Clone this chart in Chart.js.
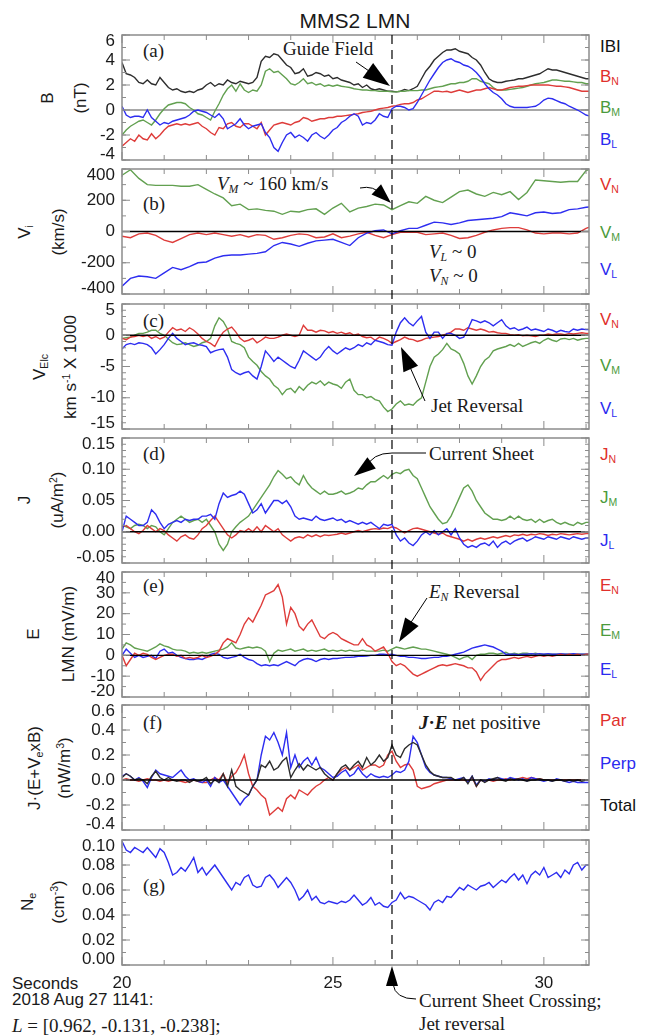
<!DOCTYPE html>
<html>
<head>
<meta charset="utf-8">
<script src="https://cdn.jsdelivr.net/npm/chart.js@4.4.1/dist/chart.umd.min.js"></script>
<style>
body { margin: 0; background: #fff; }
#fig { position: relative; width: 650px; height: 1036px; overflow: hidden; font-family: "Liberation Sans", Arial, sans-serif; color: #1a1a1a; }
#fig canvas { position: absolute; left: 0; }
.t { position: absolute; white-space: nowrap; line-height: 1; transform: translateY(-50%); }
.serif { font-family: "Liberation Serif", "Times New Roman", serif; font-size: 19px; }
.sans { font-size: 17px; }
.yt { position: absolute; white-space: nowrap; line-height: 1; font-size: 17px; transform: translate(-50%, -50%) rotate(-90deg); }
sub { font-size: 62%; vertical-align: -0.3em; }
sup { font-size: 62%; vertical-align: 0.6em; }
.r { color: #e0302c; } .g { color: #4b9b3c; } .b { color: #2b2bef; } .k { color: #111; }
</style>
</head>
<body>
<div id="fig">
  <div class="t" style="left:355px;top:20px;font-size:21px;transform:translate(-50%,-50%)">MMS2 LMN</div>

  <!-- y titles -->
  <div class="yt" style="left:47px;top:98px">B</div>
  <div class="yt" style="left:80px;top:98px">(nT)</div>
  <div class="yt" style="left:25px;top:232px">V<sub>i</sub></div>
  <div class="yt" style="left:58px;top:232px">(km/s)</div>
  <div class="yt" style="left:40px;top:367px">V<sub>Elc</sub></div>
  <div class="yt" style="left:70px;top:367px">km s<sup>-1</sup> X 1000</div>
  <div class="yt" style="left:24px;top:500px">J</div>
  <div class="yt" style="left:57px;top:500px">(uA/m<sup>2</sup>)</div>
  <div class="yt" style="left:33px;top:634px">E</div>
  <div class="yt" style="left:68px;top:634px">LMN (mV/m)</div>
  <div class="yt" style="left:35px;top:768px">J·(E+V<sub>e</sub>xB)</div>
  <div class="yt" style="left:64px;top:768px">(nW/m<sup>3</sup>)</div>
  <div class="yt" style="left:28px;top:902px">N<sub>e</sub></div>
  <div class="yt" style="left:58px;top:902px">(cm<sup>-3</sup>)</div>

  <!-- component keys -->
  <div class="t sans k" style="left:600px;top:46px">IBI</div>
  <div class="t sans r" style="left:600px;top:77px">B<sub>N</sub></div>
  <div class="t sans g" style="left:600px;top:108px">B<sub>M</sub></div>
  <div class="t sans b" style="left:600px;top:140px">B<sub>L</sub></div>
  <div class="t sans r" style="left:600px;top:185px">V<sub>N</sub></div>
  <div class="t sans g" style="left:600px;top:233px">V<sub>M</sub></div>
  <div class="t sans b" style="left:600px;top:270px">V<sub>L</sub></div>
  <div class="t sans r" style="left:600px;top:320px">V<sub>N</sub></div>
  <div class="t sans g" style="left:600px;top:366px">V<sub>M</sub></div>
  <div class="t sans b" style="left:600px;top:409px">V<sub>L</sub></div>
  <div class="t sans r" style="left:600px;top:455px">J<sub>N</sub></div>
  <div class="t sans g" style="left:600px;top:498px">J<sub>M</sub></div>
  <div class="t sans b" style="left:600px;top:541px">J<sub>L</sub></div>
  <div class="t sans r" style="left:600px;top:586px">E<sub>N</sub></div>
  <div class="t sans g" style="left:600px;top:631px">E<sub>M</sub></div>
  <div class="t sans b" style="left:600px;top:670px">E<sub>L</sub></div>
  <div class="t sans r" style="left:600px;top:720px">Par</div>
  <div class="t sans b" style="left:600px;top:763px">Perp</div>
  <div class="t sans k" style="left:600px;top:805px">Total</div>

  <!-- panel letters -->
  <div class="t serif" style="left:143px;top:50px">(a)</div>
  <div class="t serif" style="left:143px;top:203px">(b)</div>
  <div class="t serif" style="left:143px;top:320px">(c)</div>
  <div class="t serif" style="left:143px;top:453px">(d)</div>
  <div class="t serif" style="left:143px;top:585px">(e)</div>
  <div class="t serif" style="left:143px;top:722px">(f)</div>
  <div class="t serif" style="left:143px;top:885px">(g)</div>

  <!-- notes -->
  <div class="t serif" style="left:283px;top:48px">Guide Field</div>
  <div class="t serif" style="left:217px;top:185px"><i>V<sub>M</sub></i> ~ 160 km/s</div>
  <div class="t serif" style="left:429px;top:253px"><i>V<sub>L</sub></i> ~ 0</div>
  <div class="t serif" style="left:429px;top:277px"><i>V<sub>N</sub></i> ~ 0</div>
  <div class="t serif" style="left:431px;top:405px">Jet Reversal</div>
  <div class="t serif" style="left:429px;top:453px">Current Sheet</div>
  <div class="t serif" style="left:429px;top:593px"><i>E<sub>N</sub></i> Reversal</div>
  <div class="t serif" style="left:419px;top:722px"><b><i>J</i>·<i>E</i></b> net positive</div>
  <div class="t serif" style="left:419px;top:1000px">Current Sheet Crossing;</div>
  <div class="t serif" style="left:419px;top:1023px">Jet reversal</div>

  <div class="t sans" style="left:12px;top:983px">Seconds</div>
  <div class="t sans" style="left:12px;top:999px">2018 Aug 27 1141:</div>
  <div class="t serif" style="left:12px;top:1025px"><i>L</i> = [0.962, -0.131, -0.238];</div>
</div>

<script>
// time stamps (s after 11:41): fields/electrons at 0.1 s, ions at 0.2 s
const T_START = 20, T_END = 31.07, T_CROSS = 26.4;
const tFast = Array.from({ length: 112 }, (_, i) => +(T_START + i * 0.1).toFixed(1));
const tIon = Array.from({ length: 57 }, (_, i) => +(T_START + i * 0.2).toFixed(1));

// (a) magnetic field, nT
const bTot = [
  3.8, 2.9, 2.8, 2.6, 2.2, 2.1, 2.4, 2.1, 2.0, 2.6,
  2.2, 1.8, 1.6, 1.7, 1.5, 1.4, 1.5, 1.4, 1.6, 1.7,
  2.0, 2.2, 1.9, 2.1, 2.0, 2.4, 2.2, 2.1, 2.3, 2.2,
  2.1, 2.2, 2.6, 3.9, 4.3, 4.2, 4.5, 4.4, 4.0, 3.6,
  3.4, 2.9, 3.0, 3.3, 2.7, 2.8, 3.0, 2.9, 2.7, 2.8,
  2.5, 2.6, 2.4, 2.3, 2.2, 2.0, 2.1, 1.8, 2.0, 1.7,
  1.6, 1.7, 1.6, 1.5, 1.5, 1.45, 1.5, 1.65, 1.55, 1.7,
  1.9, 2.5, 3.1, 3.5, 4.0, 4.3, 4.6, 4.8, 4.8, 4.9,
  4.7, 4.6, 4.5, 4.2, 4.0, 3.6, 3.0, 2.5, 2.3, 2.2,
  2.2, 2.3, 2.35, 2.4, 2.5, 2.5, 2.6, 2.7, 2.8, 2.9,
  3.1, 3.3, 3.2, 3.2, 3.1, 3.0, 2.9, 2.8, 2.7, 2.6,
  2.5, 2.5];
const bM = [
  -2.0, -1.6, -1.3, -1.1, -0.9, -0.8, -1.0, -1.2, -0.8, -0.3,
  0.1, 0.4, 0.5, 0.6, 0.6, 0.5, 0.2, 0.0, -0.3, -0.4,
  -0.6, -0.8, -0.1, 0.5, 1.2, 1.7, 2.0, 1.5, 2.1, 1.6,
  1.4, 1.6, 1.5, 2.0, 3.1, 3.3, 3.0, 3.1, 2.8, 2.5,
  2.1, 2.0, 2.2, 2.5, 2.1, 2.2, 2.0, 2.1, 1.9, 2.0,
  1.9, 2.0, 1.9, 1.85, 1.8, 1.7, 1.65, 1.6, 1.6, 1.55,
  1.55, 1.5, 1.5, 1.5, 1.45, 1.45, 1.5, 1.5, 1.55, 1.55,
  1.55, 1.6, 1.6, 1.7, 1.8, 1.85, 1.9, 2.0, 2.1, 2.1,
  2.2, 2.2, 2.3, 2.5, 2.5, 2.3, 2.2, 2.1, 1.8, 1.6,
  1.6, 1.6, 1.65, 1.7, 1.75, 1.8, 1.9, 2.0, 2.1, 2.15,
  2.2, 2.3, 2.4, 2.4, 2.35, 2.3, 2.3, 2.25, 2.2, 2.2,
  2.1, 2.1];
const bN = [
  -2.9, -2.6, -2.3, -2.5, -2.0, -2.3, -2.4, -1.9, -2.3, -2.0,
  -1.6, -1.3, -1.2, -1.1, -1.2, -1.1, -1.2, -1.1, -1.0, -1.3,
  -1.5, -1.8, -2.0, -1.4, -1.5, -1.1, -1.0, -1.3, -1.4, -1.1,
  -1.1, -1.3, -1.5, -1.0, -2.0, -1.6, -1.2, -1.1, -1.0, -1.1,
  -1.2, -1.0, -0.9, -0.6, -0.7, -0.9, -0.8, -0.7, -0.7, -0.6,
  -0.6, -0.5, -0.5, -0.45, -0.4, -0.35, -0.3, -0.2, -0.15, -0.1,
  0.0, 0.1, 0.15, 0.2, 0.3, 0.35, 0.45, 0.5, 0.5, 0.6,
  0.8, 0.9, 1.1, 1.3, 1.5, 1.5, 1.45, 1.5, 1.4, 1.5,
  1.6, 1.5, 1.4, 1.5, 1.6, 1.6, 1.7, 1.8, 1.7, 1.6,
  1.6, 1.7, 1.8, 1.85, 1.9, 1.9, 1.95, 2.0, 2.0, 2.0,
  2.0, 2.0, 1.95, 1.9, 1.9, 1.85, 1.8, 1.7, 1.6, 1.5,
  1.5, 1.5];
const bL = [
  0.3, -0.4, -0.6, -0.5, -0.5, -0.6, 0.0, -0.6, -0.9, -1.2,
  -1.0, -1.1, -0.9, -0.8, -0.7, -0.6, -0.4, -0.1, 0.0, -0.1,
  -0.2, -0.4, -0.6, -0.3, -0.7, -1.5, -1.3, -1.1, -0.7, -1.2,
  -1.5, -1.3, -1.2, -1.1, -1.8, -2.2, -3.0, -3.3, -2.6, -2.0,
  -1.8, -2.2, -2.0, -2.2, -2.5, -2.0, -1.8, -2.1, -2.3, -2.0,
  -1.6, -1.4, -1.0, -0.8, -0.5, -0.3, -0.5, -1.2, -1.0, -1.1,
  -0.8, -0.3, -0.5, -0.6, 0.1, 0.3, 0.3, 0.2, 0.0, 0.1,
  0.6, 1.2, 1.8, 2.4, 2.9, 3.4, 3.8, 4.0, 4.1, 3.9,
  3.8, 3.6, 3.5, 3.3, 3.0, 2.6, 2.1, 1.7, 1.4, 1.2,
  0.9, 0.5, 0.3, 0.2, 0.2, 0.2, 0.2, 0.25, 0.3, 0.5,
  0.8, 0.95, 0.9, 0.75, 0.6, 0.5, 0.3, 0.15, 0.0, -0.2,
  -0.4, -0.5];

// (b) ion velocity, km/s
const viM = [
  360, 395, 340, 300, 295, 295, 295, 290, 290, 300,
  270, 240, 215, 165, 175, 140, 145, 135, 130, 110,
  130, 125, 140, 145, 110, 150, 180, 125, 150, 160,
  175, 170, 140, 165, 190, 180, 225, 200, 185, 220,
  255, 265, 240, 225, 250, 235, 255, 205, 250, 330,
  325, 320, 315, 320, 320, 390, 410];
const viL = [
  -350, -300, -285, -290, -300, -265, -230, -245, -225, -200,
  -195, -170, -155, -150, -150, -145, -140, -130, -90, -70,
  -80, -95, -75, -60, -55, -50, -70, -90, -40, -10,
  5, 10, -15, 5, 20, 20, 40, 60, 55, 45,
  55, 70, 75, 80, 85, 95, 120, 110, 100, 120,
  125, 115, 120, 140, 145, 155, 160];
const viN = [
  -30, -40, -15, -10, -25, -55, -70, -45, -20, -10,
  -20, -10, -20, -30, -20, -35, -20, -25, -50, -40,
  -25, -15, -20, -40, -35, -15, -40, -30, -15, -5,
  -25, -40, -20, -5, -5, -5, -20, -15, -10, -25,
  -45, -40, -25, -5, 10, 20, 25, 25, 10, -10,
  -15, -10, -10, -15, -10, 20, 40];

// (c) electron velocity, 1000 km/s
const veM = [
  -0.5, -0.4, -0.3, 0.0, 0.3, 0.3, 0.5, 0.8, 0.8, 0.3,
  0.0, -0.6, -1.2, -1.5, -1.4, -1.2, -1.5, -1.8, -1.6, -1.2,
  -1.0, -0.5, 1.5, 2.8, 2.2, 1.0, -1.0, -1.3, -1.5, -2.0,
  -3.5, -4.2, -4.8, -5.8, -6.5, -7.0, -8.0, -8.5, -9.5, -8.7,
  -8.5, -9.2, -8.2, -8.8, -8.0, -7.5, -7.8, -7.3, -8.0, -7.5,
  -7.8, -8.0, -8.5, -7.5, -7.0, -8.8, -9.5, -9.5, -10.0, -9.8,
  -10.3, -10.5, -11.5, -12.2, -11.8, -11.0, -10.5, -11.2, -11.0, -11.2,
  -10.5, -10.0, -7.5, -5.0, -3.5, -3.0, -2.3, -1.3, -2.2, -2.5,
  -3.0, -4.5, -6.5, -7.8, -6.5, -5.0, -4.0, -3.5, -2.5, -2.2,
  -2.0, -1.8, -1.5, -1.8, -1.3, -1.8, -1.5, -1.2, -1.0, -1.3,
  -0.8, -0.5, -0.8, -1.0, -0.6, -0.5, -0.7, -0.5, -0.8, -0.6,
  -0.5, -0.5];
const veL = [
  -2.2, -1.5, -1.3, -1.5, -1.2, -1.3, -1.5, -2.0, -3.0, -2.3,
  -1.5, -0.5, 0.3, -0.5, -1.0, -1.5, -1.3, -1.2, -1.5, -1.6,
  -1.8, -2.8, -2.5, -2.3, -2.2, -3.5, -5.5, -6.0, -6.3, -6.0,
  -5.8, -6.5, -7.0, -5.0, -2.5, -3.3, -4.2, -3.5, -4.0, -4.5,
  -5.0, -5.3, -4.0, -2.5, -3.0, -3.5, -4.0, -3.5, -2.5, -1.8,
  -2.5, -3.0, -2.5, -2.0, -2.3, -2.0, -1.5, -1.8, -1.2, -1.5,
  -0.8, -1.0, -1.2, -1.5, -1.6, 0.5, 2.0, 2.8, 2.0, 1.5,
  2.3, 3.0, 0.5, -0.5, 0.5, 0.5, -0.5, 0.3, 0.3, 0.0,
  -0.5, -0.3, 1.0, 2.5, 2.3, 2.0, 2.3, 2.0, 1.5, 2.0,
  2.5, 1.5, 1.0, 1.2, 0.8, 1.0, 1.3, 0.8, 1.0, 0.8,
  0.6, 1.0, 0.8, 0.5, 0.8, 0.6, 0.5, 1.0, 0.8, 1.0,
  0.9, 0.9];
const veN = [
  -0.5, -0.7, -0.3, -0.2, 0.0, -0.2, 0.0, -0.5, -0.2, -0.6,
  -0.3, 0.5, 1.2, 0.8, 1.0, 0.6, 1.2, 0.8, 0.2, -0.5,
  -1.0, -1.3, -1.8, -0.5, 0.5, 1.0, 1.3, 0.5, -0.5, -1.0,
  -0.8, -0.5, -1.2, -0.8, -0.3, -0.5, -0.5, -0.3, 0.0, 0.2,
  0.0, -0.2, 0.0, 1.6, 0.8, 0.8, 0.5, 0.8, 0.7, 0.4,
  0.6, 0.3, 0.5, 0.2, 0.4, 0.0, 0.2, -0.2, -0.4, -0.3,
  -0.8, -0.3, -0.5, -0.8, -1.3, -1.0, -0.7, -0.3, -0.6, -0.7,
  -1.0, -0.8, -0.5, -0.4, -0.3, -0.2, 0.0, 0.2, 0.5, 1.0,
  1.0, 0.8, 1.2, 1.0, 0.8, 1.0, 0.8, 0.5, 0.6, 0.4,
  0.3, 0.3, 0.1, 0.0, 0.1, -0.1, 0.0, -0.1, -0.2, 0.0,
  0.0, 0.2, 0.1, 0.2, 0.2, 0.1, 0.3, 0.2, 0.3, 0.4,
  0.3, 0.3];

// (d) current density, uA/m^2
const jM = [
  0.01, 0.008, 0.005, 0.01, 0.012, 0.01, 0.005, 0.01, 0.008, 0.0,
  -0.005, 0.005, 0.015, 0.02, 0.025, 0.02, 0.015, 0.018, 0.02, 0.015,
  0.02, 0.01, 0.0, -0.02, -0.03, -0.02, 0.0, 0.008, 0.015, 0.02,
  0.025, 0.035, 0.045, 0.055, 0.065, 0.075, 0.088, 0.098, 0.092, 0.085,
  0.088, 0.08, 0.075, 0.09, 0.078, 0.07, 0.065, 0.06, 0.065, 0.06,
  0.06, 0.062, 0.065, 0.06, 0.062, 0.065, 0.07, 0.068, 0.075, 0.08,
  0.08, 0.085, 0.09, 0.085, 0.092, 0.095, 0.093, 0.098, 0.1, 0.09,
  0.085, 0.07, 0.055, 0.04, 0.03, 0.02, 0.013, 0.015, 0.025, 0.04,
  0.055, 0.07, 0.075, 0.065, 0.05, 0.04, 0.03, 0.025, 0.02, 0.02,
  0.018, 0.02, 0.025, 0.02, 0.025, 0.02, 0.018, 0.02, 0.015, 0.02,
  0.015, 0.018, 0.02, 0.015, 0.012, 0.015, 0.012, 0.01, 0.015, 0.012,
  0.015, 0.015];
const jL = [
  0.0, 0.025, 0.02, 0.015, 0.01, 0.01, 0.015, 0.035, 0.028, 0.015,
  0.005, 0.012, 0.015, 0.018, 0.015, 0.02, 0.018, 0.02, 0.02, 0.025,
  0.025, 0.028, 0.02, 0.045, 0.062, 0.055, 0.058, 0.06, 0.065, 0.06,
  0.045, 0.03, 0.035, 0.045, 0.03, 0.04, 0.05, 0.05, 0.045, 0.05,
  0.04, 0.025, 0.02, 0.022, 0.02, 0.018, 0.025, 0.02, 0.018, 0.02,
  0.022, 0.018, 0.02, 0.015, 0.018, 0.015, 0.012, 0.015, 0.012, 0.015,
  0.01, 0.005, 0.012, 0.01, 0.012, -0.005, -0.015, -0.01, -0.018, -0.022,
  -0.015, -0.005, 0.0, -0.005, 0.002, -0.005, 0.0, 0.005, -0.005, 0.005,
  -0.01, -0.02, -0.025, -0.022, -0.025, -0.02, -0.018, -0.022, -0.015, -0.025,
  -0.018, -0.015, -0.02, -0.015, -0.012, -0.01, -0.015, -0.012, -0.008, -0.01,
  -0.012, -0.008, -0.01, -0.012, -0.008, -0.01, -0.012, -0.008, -0.01, -0.012,
  -0.01, -0.01];
const jN = [
  0.008, 0.01, 0.005, 0.0, -0.003, 0.002, 0.01, 0.005, 0.0, 0.005,
  0.002, -0.005, -0.01, -0.015, -0.008, -0.005, -0.01, -0.012, -0.005, 0.005,
  0.01, 0.018, 0.025, 0.015, 0.005, -0.005, -0.01, -0.005, 0.002, 0.0,
  0.005, 0.0, 0.008, 0.0, 0.01, 0.005, 0.0, 0.005, -0.005, -0.01,
  -0.015, -0.01, -0.008, -0.01, -0.005, -0.008, -0.005, -0.008, -0.005, -0.006,
  -0.005, -0.004, -0.002, -0.004, -0.002, 0.0, 0.002, 0.0, 0.002, 0.004,
  0.005, 0.004, 0.006, 0.005, 0.008, 0.006, 0.002, -0.002, 0.002, 0.005,
  0.006, 0.004, 0.002, 0.0, -0.002, -0.004, -0.002, -0.006, -0.008, -0.01,
  -0.012, -0.015, -0.012, -0.015, -0.012, -0.01, -0.012, -0.01, -0.008, -0.01,
  -0.008, -0.006, -0.008, -0.005, -0.006, -0.004, -0.006, -0.004, -0.005, -0.003,
  -0.004, -0.006, -0.004, -0.005, -0.003, -0.004, -0.005, -0.004, -0.003, -0.004,
  -0.003, -0.003];

// (e) electric field, mV/m
const eN = [
  0, -5, -2, 1, 0, 1, 0.5, -1, -2, -1,
  0, 0.5, 0.5, -0.5, 0, -1.5, -1, -1.5, -1, 0,
  -1, -0.5, 0.5, 2, 6, 8, 7, 6, 10, 15,
  18, 16, 20, 24, 29, 30, 31, 34, 28, 15,
  23, 20, 14, 12, 15, 17, 13, 9, 8, 10,
  11, 10, 8, 7, 6, 5, 5, 8, 5, 4,
  2, 3, 4, 1, -3, -5, -4, -5, -7, -9,
  -10, -9, -8, -7, -6, -5, -4.5, -5, -4.5, -4,
  -4.5, -5, -6, -6, -8, -12, -9, -7, -5, -3,
  -2, -2, -1.5, -1, -1.5, -1, -0.5, -1, -0.5, 0,
  -0.5, 0, -0.5, 0, 0.5, 0, 0.5, 0, 0.5, 0,
  0.5, 0.5];
const eM = [
  3, 6, 5, 3.5, 3, 2.5, 2, 3, 4, 5.5,
  4.5, 4, 3, 2.5, 2.5, 2, 1, 1.5, 1, 1.5,
  1, 1.5, 2, 2.5, 3, 4, 6, 3.5, 3, 3.5,
  4, 3.5, 4, 3.5, 2, -3, 1, 2.5, 2, 2.5,
  3, 2, 2.5, 3, 2, 2.5, 2, 2.5, 3, 2,
  2.5, 2, 2.5, 2, 2.5, 2, 2, 2.5, 2, 2,
  2, 2, 2.5, 2, 3, 4, 3.5, 3, 3.5, 4,
  3.5, 3, 3, 2.5, 2, 1.5, 1, 0.5, 0, -1,
  -2, -1, -0.5, -2, 0, 0.5, 0.5, 1, 1, 0.5,
  1, 1.5, 0.5, 1, 0.5, 1, 1, 0.5, 1, 0.5,
  0.5, 0.5, 0.5, 0.5, 0.5, 0.5, 0.5, 0.5, 0.5, 0.5,
  0.5, 0.5];
const eL = [
  0, 3, 1, -1, 0, -1, -0.5, 0, -1.5, 2,
  3, 1, 1.5, 0, -1, -1.5, -2, -2, -1.5, -2,
  -1, 0.5, 1, 0.5, -1, -1.5, -1, -0.5, 0.5, -1,
  -2, -2.5, -4, -5, -4.5, -5, -4.5, -5, -4, -3,
  -4, -5, -3, -2, -1.5, -2, -3, -2, -1.5, -2,
  -1.5, -1.5, -1.2, -1, -1, -0.8, -0.5, -0.5, -0.3, 0,
  0, 0.5, 0.5, 0.3, 0.5, 0, -0.5, -0.5, -1, -1,
  -1.2, -1.5, -1.5, -1.2, -1, -1, -0.5, -0.5, 0, 0.5,
  1, 1.5, 2.5, 3.5, 4, 4.5, 5, 4.5, 4, 3,
  2, 0.5, 0.5, 0.5, 0.3, 0.5, 0.5, 0.8, 0.5, 0.8,
  0.5, 0.8, 0.5, 0.5, 0.8, 0.5, 0.5, 0.8, 0.5, 0.5,
  0.5, 0.5];

// (f) J.(E + Ve x B), nW/m^3
const jePar = [
  0.0, 0.01, 0.0, 0.0, -0.01, 0.0, 0.01, 0.0, 0.0, -0.01,
  0.0, -0.01, 0.0, 0.0, -0.01, -0.02, -0.01, 0.0, -0.01, -0.02,
  -0.02, 0.0, 0.02, 0.0, 0.05, -0.02, 0.03, 0.06, 0.12, 0.2,
  0.05, -0.05, -0.08, -0.12, -0.15, -0.28, -0.25, -0.22, -0.25, -0.15,
  -0.12, -0.15, -0.08, -0.1, -0.12, -0.08, -0.05, -0.03, 0.0, 0.02,
  0.0, 0.05, 0.08, 0.1, 0.08, 0.1, 0.12, 0.08, 0.1, 0.12,
  0.12, 0.1, 0.12, 0.2, 0.23, 0.15, 0.1, 0.12, 0.13, 0.08,
  -0.05, -0.07, -0.06, -0.05, -0.03, -0.02, -0.01, 0.0, 0.0, 0.0,
  0.0, 0.0, -0.01, 0.02, -0.05, 0.0, -0.01, 0.0, -0.01, 0.0,
  0.0, 0.01, 0.0, 0.01, 0.01, 0.02, 0.01, 0.02, 0.01, 0.01,
  0.0, 0.0, 0.0, 0.0, 0.0, 0.0, 0.0, 0.0, 0.0, 0.0,
  0.0, 0.0];
const jePerp = [
  0.03, 0.05, 0.03, 0.0, 0.02, -0.01, -0.06, 0.02, 0.08, 0.05,
  0.04, 0.03, 0.02, 0.05, 0.08, 0.03, 0.0, 0.01, -0.01, -0.02,
  0.0, -0.05, 0.02, -0.02, 0.0, -0.05, -0.1, -0.15, -0.2, -0.15,
  -0.12, -0.05, 0.0, 0.2, 0.35, 0.32, 0.38, 0.3, 0.2, 0.38,
  0.1, 0.2, 0.1, 0.15, 0.18, 0.12, 0.18, 0.1, 0.08, 0.05,
  0.02, 0.03, 0.06, 0.08, 0.03, 0.05, 0.1, 0.05, 0.02, 0.05,
  0.03, 0.02, 0.03, 0.02, 0.04, 0.07, 0.06, 0.08, 0.15, 0.35,
  0.3, 0.2, 0.1, 0.06, 0.04, 0.03, 0.02, 0.02, 0.01, 0.0,
  0.01, 0.02, -0.02, 0.03, -0.04, 0.0, -0.01, 0.01, 0.0, 0.02,
  0.01, 0.0, 0.02, 0.01, 0.0, 0.01, -0.01, 0.02, 0.01, 0.0,
  -0.01, 0.0, -0.01, 0.01, 0.0, -0.01, -0.02, -0.01, -0.02, -0.02,
  -0.02, -0.02];
const jeTot = [
  0.02, 0.05, 0.03, 0.0, 0.01, 0.0, -0.03, 0.03, 0.07, 0.02,
  0.0, 0.02, 0.0, -0.01, 0.0, 0.0, -0.02, 0.0, -0.01, 0.0,
  0.02, -0.03, 0.0, -0.02, 0.05, -0.05, 0.08, -0.05, -0.08, -0.1,
  -0.12, -0.05, 0.0, 0.12, 0.1, 0.15, 0.08, 0.1, 0.15, 0.18,
  0.02, 0.08, 0.13, 0.08, 0.12, 0.1, 0.08, 0.1, 0.05, 0.02,
  0.0, 0.05, 0.1, 0.12, 0.08, 0.12, 0.15, 0.1, 0.18, 0.12,
  0.15, 0.2, 0.15, 0.18, 0.28, 0.2, 0.18, 0.25, 0.28, 0.3,
  0.28, 0.2, 0.12, 0.07, 0.04, 0.03, 0.02, 0.02, 0.02, 0.0,
  0.0, 0.02, -0.03, 0.03, -0.05, 0.0, -0.02, 0.0, 0.01, 0.02,
  0.0, -0.01, 0.01, 0.0, 0.01, 0.0, -0.01, 0.0, 0.0, 0.01,
  0.0, 0.0, -0.01, 0.0, 0.0, -0.01, 0.0, -0.01, 0.0, -0.01,
  0.0, 0.0];

// (g) electron density, cm^-3
const ne = [
  0.099, 0.092, 0.09, 0.094, 0.092, 0.09, 0.094, 0.09, 0.086, 0.093,
  0.09, 0.082, 0.072, 0.074, 0.078, 0.075, 0.08, 0.086, 0.074, 0.078,
  0.072, 0.076, 0.08, 0.075, 0.07, 0.065, 0.06, 0.066, 0.064, 0.07,
  0.072, 0.064, 0.062, 0.063, 0.07, 0.072, 0.068, 0.062, 0.066, 0.07,
  0.066, 0.06, 0.052, 0.055, 0.06, 0.052, 0.055, 0.05, 0.049, 0.051,
  0.05, 0.049, 0.051, 0.05, 0.052, 0.056, 0.052, 0.048, 0.05, 0.054,
  0.048, 0.05, 0.047, 0.046, 0.05, 0.052, 0.058, 0.053, 0.055, 0.054,
  0.052, 0.05, 0.048, 0.044, 0.05, 0.052, 0.05, 0.055, 0.054, 0.058,
  0.062, 0.06, 0.064, 0.062, 0.06, 0.063, 0.064, 0.066, 0.062, 0.065,
  0.068, 0.066, 0.07, 0.073, 0.068, 0.072, 0.065, 0.072, 0.075, 0.072,
  0.078, 0.07, 0.072, 0.074, 0.07, 0.076, 0.073, 0.08, 0.082, 0.076,
  0.08, 0.08];

const RED = 'rgb(222,60,58)', GREEN = 'rgb(98,160,80)', BLUE = 'rgb(45,45,240)', BLACK = 'rgb(45,45,45)';

function series(t, v, color) {
  return { data: t.map((x, i) => ({ x, y: v[i] })), borderColor: color, borderWidth: 1.4, pointRadius: 0, tension: 0 };
}

const PAD = 12, LEFT = 122, RIGHT = 589, H = 125;

// first dataset in each list is drawn on top
const panels = [
  { top: 35, min: -4, max: 6, step: 2, minor: 1, dec: 0, zero: 'soft',
    sets: [series(tFast, bL, BLUE), series(tFast, bN, RED), series(tFast, bM, GREEN), series(tFast, bTot, BLACK)] },
  { top: 169, min: -400, max: 400, step: 200, minor: 100, dec: 0, zero: 'hard',
    sets: [series(tIon, viL, BLUE), series(tIon, viN, RED), series(tIon, viM, GREEN)] },
  { top: 304, min: -15, max: 5, step: 5, minor: 1, dec: 0, zero: 'hard',
    sets: [series(tFast, veL, BLUE), series(tFast, veN, RED), series(tFast, veM, GREEN)] },
  { top: 438, min: -0.05, max: 0.15, step: 0.05, minor: 0.01, dec: 2, zero: 'hard',
    sets: [series(tFast, jL, BLUE), series(tFast, jN, RED), series(tFast, jM, GREEN)] },
  { top: 572, min: -20, max: 40, step: 10, minor: 5, dec: 0, zero: 'hard',
    sets: [series(tFast, eN, RED), series(tFast, eL, BLUE), series(tFast, eM, GREEN)] },
  { top: 705, min: -0.4, max: 0.6, step: 0.2, minor: 0.1, dec: 1, zero: 'hard',
    sets: [series(tFast, jeTot, BLACK), series(tFast, jePerp, BLUE), series(tFast, jePar, RED)] },
  { top: 840, min: 0, max: 0.1, step: 0.02, minor: 0.01, dec: 2, zero: null, xLabels: [20, 25, 30],
    sets: [series(tFast, ne, BLUE)] }
];

function ticksOf(min, max, step) {
  const n = Math.round((max - min) / step), out = [];
  for (let i = 0; i <= n; i++) out.push(+(min + i * step).toFixed(6));
  return out;
}

function seg(ctx, x1, y1, x2, y2) { ctx.beginPath(); ctx.moveTo(x1, y1); ctx.lineTo(x2, y2); ctx.stroke(); }

function drawZero(chart, o) {
  const { ctx, chartArea: a, scales: { y } } = chart;
  const py = y.getPixelForValue(0);
  ctx.save();
  ctx.strokeStyle = o.zero === 'soft' ? '#a8a8a8' : '#000';
  ctx.lineWidth = o.zero === 'soft' ? 2 : 1.3;
  seg(ctx, a.left, py, a.right, py);
  ctx.restore();
}

// box, inward ticks and clamped tick labels in the IDL style
const panelAxes = {
  id: 'panelAxes',
  beforeDatasetsDraw(chart, args, o) { if (o.zero === 'soft') drawZero(chart, o); },
  afterDatasetsDraw(chart, args, o) {
    if (o.zero === 'hard') drawZero(chart, o);
    const { ctx, chartArea: a, scales: { x, y } } = chart;
    ctx.save();
    ctx.strokeStyle = '#8c8c8c';
    ctx.lineWidth = 1.5;
    ctx.strokeRect(a.left, a.top, a.right - a.left, a.bottom - a.top);
    ctx.lineWidth = 1;
    for (let s = 20; s <= 31; s++) {
      const px = x.getPixelForValue(s);
      const len = s % 5 === 0 ? 8 : 5;
      seg(ctx, px, a.top, px, a.top + len);
      seg(ctx, px, a.bottom, px, a.bottom - len);
    }
    ticksOf(o.min, o.max, o.minor).forEach(v => {
      const py = y.getPixelForValue(v);
      seg(ctx, a.left, py, a.left + 4, py);
      seg(ctx, a.right, py, a.right - 4, py);
    });
    const major = ticksOf(o.min, o.max, o.step);
    major.forEach(v => {
      const py = y.getPixelForValue(v);
      seg(ctx, a.left, py, a.left + 8, py);
      seg(ctx, a.right, py, a.right - 8, py);
    });
    ctx.fillStyle = '#1a1a1a';
    ctx.font = '17px "Liberation Sans", Arial, sans-serif';
    ctx.textAlign = 'right';
    ctx.textBaseline = 'middle';
    major.forEach(v => {
      const py = Math.min(Math.max(y.getPixelForValue(v), a.top + 6), a.bottom - 6);
      const txt = Math.abs(v) < 1e-9 ? (0).toFixed(o.dec) : v.toFixed(o.dec);
      ctx.fillText(txt, a.left - 7, py);
    });
    if (o.xLabels) {
      ctx.textAlign = 'center';
      o.xLabels.forEach(v => ctx.fillText(String(v), x.getPixelForValue(v), a.bottom + 18));
    }
    ctx.restore();
  }
};

const fig = document.getElementById('fig');
const charts = panels.map(p => {
  const padBottom = p.xLabels ? 32 : PAD;
  const cv = document.createElement('canvas');
  cv.width = 650;
  cv.height = H + PAD + padBottom;
  cv.style.top = (p.top - PAD) + 'px';
  fig.appendChild(cv);
  return new Chart(cv, {
    type: 'line',
    data: { datasets: p.sets },
    options: {
      responsive: false,
      animation: false,
      devicePixelRatio: 1,
      layout: { padding: { left: LEFT, right: 650 - RIGHT, top: PAD, bottom: padBottom } },
      scales: {
        x: { type: 'linear', min: T_START, max: T_END, display: false },
        y: { min: p.min, max: p.max, display: false }
      },
      plugins: {
        legend: { display: false },
        tooltip: { enabled: false },
        panelAxes: { min: p.min, max: p.max, step: p.step, minor: p.minor, dec: p.dec, zero: p.zero, xLabels: p.xLabels }
      }
    },
    plugins: [panelAxes]
  });
});

// crossing marker and arrows on a sheet over all panels
const over = document.createElement('canvas');
over.width = 650;
over.height = 1036;
over.style.top = '0px';
fig.appendChild(over);
const g = over.getContext('2d');
const xs = charts[6].scales.x.getPixelForValue(T_CROSS);
const yTopA = panels[0].top, yBotG = panels[6].top + H;

g.strokeStyle = '#000';
g.lineWidth = 1.2;
g.setLineDash([9, 6]);
seg(g, xs, yTopA, xs, yBotG);
g.setLineDash([]);

function head(tipX, tipY, fromX, fromY, len, half) {
  const a = Math.atan2(tipY - fromY, tipX - fromX);
  const bx = tipX - len * Math.cos(a), by = tipY - len * Math.sin(a);
  g.beginPath();
  g.moveTo(tipX, tipY);
  g.lineTo(bx + half * Math.sin(a), by - half * Math.cos(a));
  g.lineTo(bx - half * Math.sin(a), by + half * Math.cos(a));
  g.closePath();
  g.fill();
}
g.fillStyle = '#000';
g.lineWidth = 1;

// Guide Field
seg(g, 356, 62, xs - 10, 80);
head(xs - 2, 86, 356, 62, 27, 9);
// V_M ~ 160 km/s
g.beginPath(); g.moveTo(360, 188); g.quadraticCurveTo(374, 185, xs - 10, 195); g.stroke();
head(xs - 1, 203, xs - 14, 191, 20, 7);
// Jet Reversal
seg(g, 425, 401, xs + 14, 358);
head(xs + 9, 347, 425, 401, 24, 8);
// Current Sheet
g.beginPath(); g.moveTo(426, 453); g.lineTo(xs, 453); g.quadraticCurveTo(xs - 20, 453, 366, 468); g.stroke();
head(354, 476, 374, 461, 22, 7);
// E_N Reversal
seg(g, 427, 598, xs + 12, 633);
head(xs + 7, 642, 427, 598, 24, 8);
// Current Sheet Crossing
g.beginPath(); g.moveTo(xs + 1, 984); g.quadraticCurveTo(xs + 3, 999, 416, 999); g.stroke();
head(xs, yBotG + 1, xs, yBotG + 22, 20, 6);
</script>
</body>
</html>
